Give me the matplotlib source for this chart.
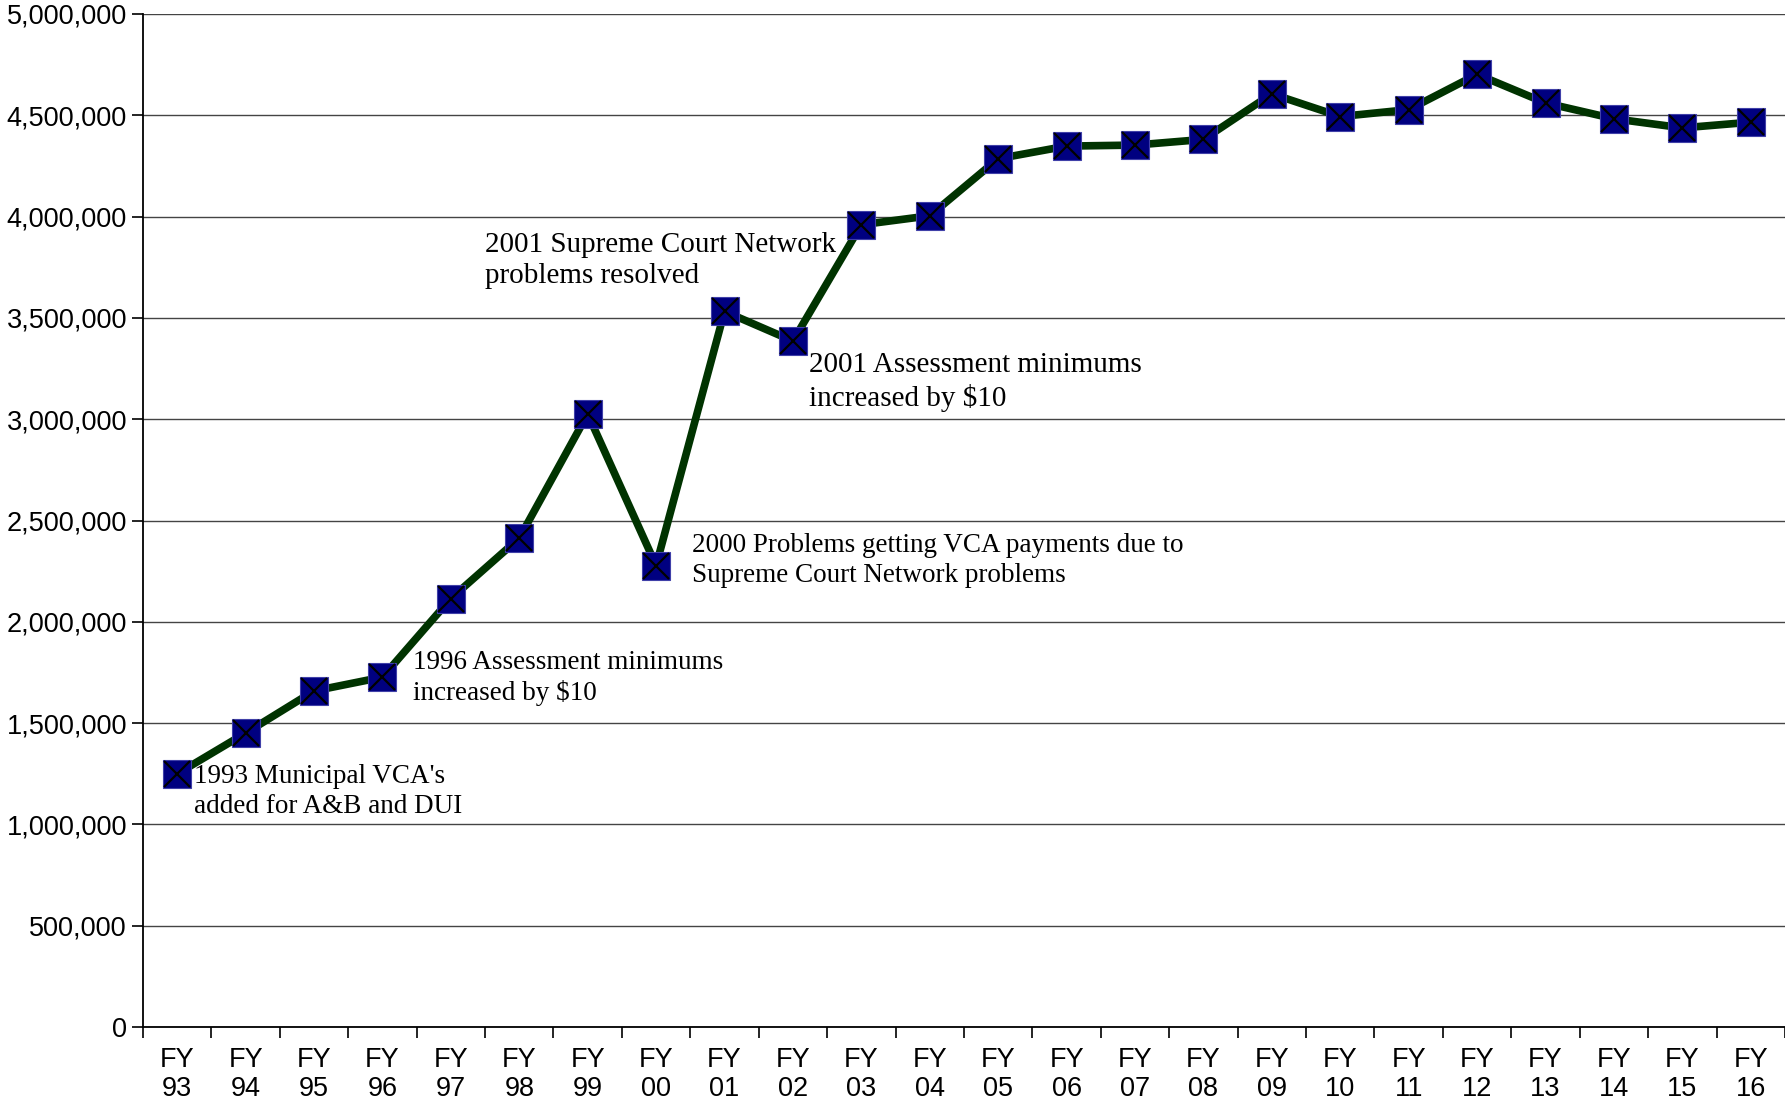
import matplotlib
matplotlib.use("Agg")
import matplotlib.pyplot as plt
from matplotlib.ticker import FuncFormatter

# Fiscal years and collected totals
years = ["93", "94", "95", "96", "97", "98", "99", "00", "01", "02", "03", "04",
         "05", "06", "07", "08", "09", "10", "11", "12", "13", "14", "15", "16"]
values = [1250000, 1451000, 1659000, 1727000, 2115000, 2413000, 3026000, 2278000,
          3532000, 3386000, 3960000, 4004000, 4286000, 4348000, 4353000, 4381000,
          4606000, 4494000, 4528000, 4702000, 4561000, 4483000, 4438000, 4466000]

notes = ["1993 Municipal VCA's\nadded for A&B and DUI",
         "1996 Assessment minimums\nincreased by $10",
         "2000 Problems getting VCA payments due to\nSupreme Court Network problems",
         "2001 Supreme Court Network\nproblems resolved",
         "2001 Assessment minimums\nincreased by $10"]

fig = plt.figure(figsize=(17.85, 11.02), dpi=100)
ax = fig.add_axes([0.0801, 0.068, 0.9199, 0.9193])

x = list(range(len(years)))
ax.plot(x, values, color="#003300", linewidth=5.5, zorder=3)
ax.plot(x, values, linestyle="none", marker="s", markersize=20,
        markerfacecolor="#000080", markeredgecolor="#4040a8",
        markeredgewidth=0.8, zorder=4)
ax.plot(x, values, linestyle="none", marker="x", markersize=19,
        markeredgecolor="black", markeredgewidth=1.6, zorder=5)

ax.set_xlim(-0.5, len(years) - 0.5)
ax.set_ylim(0, 5000000)
ax.set_yticks(range(0, 5000001, 500000))
ax.yaxis.set_major_formatter(FuncFormatter(lambda v, p: f"{int(v):,}"))
ax.set_xticks(x)
ax.set_xticklabels([f"FY\n{y}" for y in years])
ax.set_xticks([i + 0.5 for i in range(-1, len(years))], minor=True)
ax.tick_params(axis="x", which="major", length=0, pad=14)
ax.tick_params(axis="x", which="minor", length=8, width=1.2)
ax.tick_params(axis="y", length=8, width=1.2, pad=3.5)
for lab in ax.get_xticklabels() + ax.get_yticklabels():
    lab.set_fontfamily("Liberation Sans")
    lab.set_fontsize(19.5)
for lab in ax.get_xticklabels():
    lab.set_linespacing(1.15)

ax.grid(axis="y", color="#444444", linewidth=1.0)
ax.set_axisbelow(True)
for s in ["top", "right"]:
    ax.spines[s].set_visible(False)
ax.spines["left"].set_linewidth(1.3)
ax.spines["bottom"].set_linewidth(1.3)

note_pos = [(0.25, 1298000), (3.45, 1861000), (7.52, 2436000),
            (4.5, 3926000), (9.24, 3330000)]
note_size = [19.5, 19.5, 19.5, 21, 21]
for txt, (nx, ny), fs in zip(notes, note_pos, note_size):
    ax.text(nx, ny, txt, fontfamily="Liberation Serif", fontsize=fs,
            va="top", ha="left", linespacing=1.25, zorder=6)

fig.savefig("out.png", dpi=100)
